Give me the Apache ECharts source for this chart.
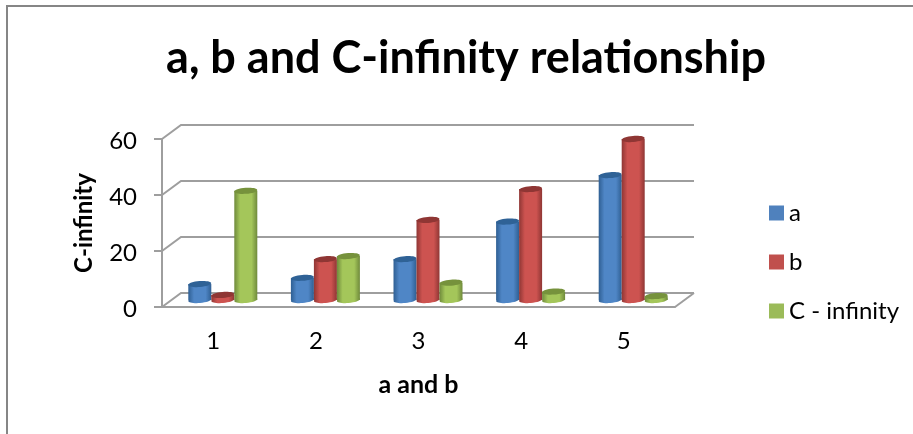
<!DOCTYPE html>
<html>
<head>
<meta charset="utf-8">
<style>
html, body { margin: 0; padding: 0; background: #fff; }
#chart { width: 913px; height: 434px; }
</style>
<script src="https://cdn.jsdelivr.net/npm/echarts@6/dist/echarts.min.js"></script>
</head>
<body>
<div id="chart"></div>
<script>
var categories = ['1', '2', '3', '4', '5'];
var aValues = [5.7, 7.9, 14.6, 28, 44.6];
var bValues = [1.8, 14.6, 28.6, 39.6, 57.5];
var cValues = [39, 15.7, 6.2, 3, 1.4];
var yTicks = [0, 20, 40, 60];

var depthX = 19, depthY = 14;
var barW = 23;
var barShiftX = 9.5, barShiftY = 7;

// draws one cylinder, colours = [edge, middle, top]
function cylinder(offset, colours) {
    return function (params, api) {
        var base = api.coord([api.value(0), 0]);
        var top = api.coord([api.value(0), api.value(1)]);
        var cx = base[0] + barShiftX + offset * barW;
        var by = base[1] - barShiftY;
        var ty = top[1] - barShiftY;
        var rx = barW / 2, ry = 3;
        var body = new echarts.graphic.LinearGradient(0, 0, 1, 0, [
            { offset: 0, color: colours[0] },
            { offset: 0.25, color: colours[1] },
            { offset: 0.75, color: colours[1] },
            { offset: 1, color: colours[0] }
        ]);
        return {
            type: 'group',
            children: [
                { type: 'ellipse', shape: { cx: cx, cy: by, rx: rx, ry: ry }, rotation: 0.08, originX: cx, originY: by, style: { fill: body } },
                { type: 'rect', shape: { x: cx - rx, y: ty, width: barW, height: by - ty }, style: { fill: body } },
                { type: 'ellipse', shape: { cx: cx, cy: ty, rx: rx, ry: ry }, rotation: 0.08, originX: cx, originY: ty, style: { fill: colours[2] } }
            ]
        };
    };
}

// back wall lines and the floor edge
function wall(params, api) {
    var sys = params.coordSys;
    var y = api.coord([0, api.value(1)])[1];
    var x0 = sys.x, x1 = sys.x + sys.width;
    var line = { stroke: '#9e9e9e', lineWidth: 2, fill: null };
    var children = [{
        type: 'polyline',
        shape: { points: [[x0, y], [x0 + depthX, y - depthY], [x1 + depthX, y - depthY]] },
        style: line
    }];
    if (api.value(1) === 0) {
        children.push({
            type: 'polyline',
            shape: { points: [[x1, y], [x1 + depthX, y - depthY]] },
            style: line
        });
    }
    return { type: 'group', children: children };
}

function rows(values) {
    return values.map(function (v, i) { return [i, v]; });
}

var myChart = echarts.init(document.getElementById('chart'));
var option = {
    animation: false,
    backgroundColor: '#fff',
    title: {
        text: 'a, b and C-infinity relationship',
        left: 461,
        top: 31,
        textAlign: 'center',
        textStyle: { fontFamily: 'Lato', fontSize: 45, fontWeight: 'bold', color: '#000' }
    },
    graphic: [{
        type: 'polyline',
        shape: { points: [[7, 434], [7, 6], [913, 6]] },
        style: { stroke: '#868686', lineWidth: 2, fill: null }
    }],
    legend: {
        orient: 'vertical',
        left: 764,
        top: 196,
        itemWidth: 15,
        itemHeight: 15,
        itemGap: 25,
        icon: 'rect',
        data: ['a', 'b', 'C - infinity'],
        textStyle: { fontFamily: 'Lato', fontSize: 24, color: '#000' }
    },
    grid: { left: 162, right: 238, top: 139, bottom: 127 },
    xAxis: {
        type: 'category',
        data: categories,
        name: 'a and b',
        nameLocation: 'middle',
        nameGap: 65,
        nameTextStyle: { fontFamily: 'Lato', fontSize: 25, fontWeight: 'bold', color: '#000' },
        axisLine: { lineStyle: { color: '#9e9e9e', width: 2 } },
        axisTick: { show: false },
        axisLabel: { fontFamily: 'Lato', fontSize: 24, color: '#000', margin: 22 }
    },
    yAxis: {
        type: 'value',
        min: 0,
        max: 60,
        interval: 20,
        name: 'C-infinity',
        nameLocation: 'middle',
        nameGap: 66,
        nameTextStyle: { fontFamily: 'Lato', fontSize: 24, fontWeight: 'bold', color: '#000' },
        axisLine: { show: true, lineStyle: { color: '#9e9e9e', width: 2 } },
        axisTick: { show: true, length: 8, lineStyle: { color: '#9e9e9e', width: 2 } },
        axisLabel: {
            margin: 25,
            formatter: '{v|{value}}',
            rich: { v: { fontFamily: 'Lato', fontSize: 24, color: '#000', padding: [5, 0, 0, 0] } }
        },
        splitLine: { show: false }
    },
    series: [
        { name: 'wall', type: 'custom', renderItem: wall, data: yTicks.map(function (t) { return [0, t]; }), clip: false, z: 1, silent: true },
        { name: 'a', type: 'custom', renderItem: cylinder(-1, ['#2f5f93', '#4f86c6', '#2f6296']), data: rows(aValues), itemStyle: { color: '#4f81bd' }, clip: false, z: 3 },
        { name: 'b', type: 'custom', renderItem: cylinder(0, ['#8f3634', '#cd5350', '#8f3634']), data: rows(bValues), itemStyle: { color: '#c0504d' }, clip: false, z: 3 },
        { name: 'C - infinity', type: 'custom', renderItem: cylinder(1, ['#6f8a3b', '#a4c65a', '#76923c']), data: rows(cValues), itemStyle: { color: '#9bbb59' }, clip: false, z: 3 }
    ]
};
option && myChart.setOption(option);
</script>
</body>
</html>
